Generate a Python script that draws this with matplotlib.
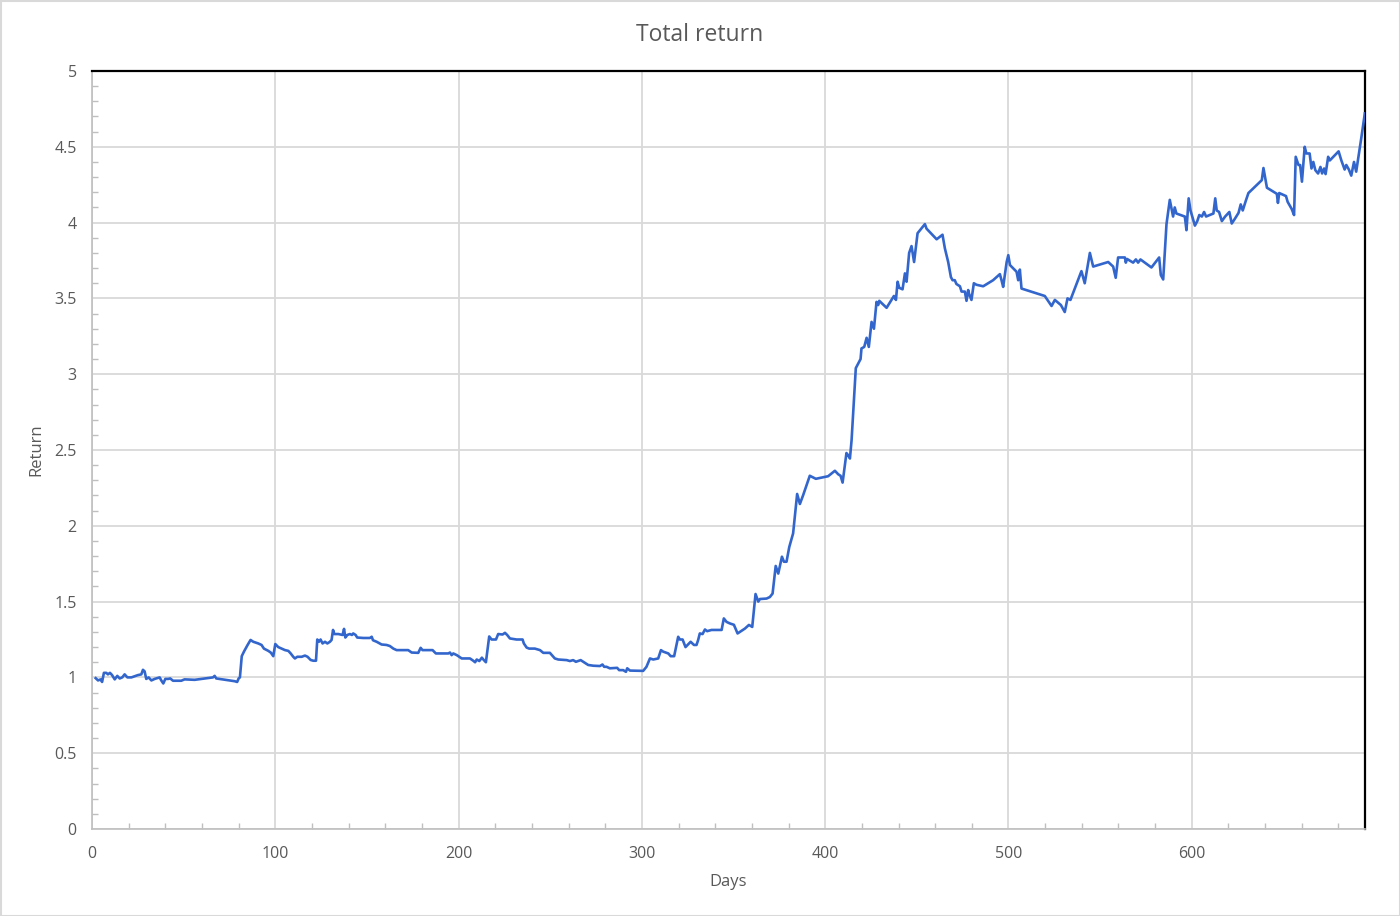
import matplotlib
matplotlib.use("Agg")
import matplotlib.pyplot as plt
from matplotlib.ticker import MultipleLocator, FuncFormatter
from matplotlib.patches import Rectangle

plt.rcParams['font.family'] = ['Open Sans', 'DejaVu Sans']

title = "Total return"
x_label = "Days"
y_label = "Return"

days = [2, 3.3, 4.7, 5.5, 6.5, 7.8, 8.7, 9.8, 10.9, 12.4, 13.8, 15.1, 16.5, 17.8, 19.3, 21.5, 25, 26.9, 27.8, 28.7,
        29.6, 30.9, 32.4, 34.2, 36.9, 37.8, 38.9, 40, 41.5, 42.7, 44.2, 48.7, 50.5, 56, 61.5, 66, 66.9, 67.8, 77.8, 79.2,
        80, 80.7, 81.7, 82.9, 84.7, 86.5, 88, 90.7, 92.5, 93.8, 96.2, 97.6, 98.9, 100, 101.6, 103.5, 105.3, 107.1, 108.4, 109.8,
        110.7, 112, 114.4, 116.2, 117.6, 119.3, 120.7, 122.2, 122.9, 123.8, 124.7, 125.8, 127.1, 128.4, 129.8, 130.7, 131.5, 132.2, 134.4, 136.7,
        137.5, 138.2, 139.3, 140.7, 141.8, 142.5, 143.8, 144.7, 148, 151.6, 152.6, 153.3, 155.3, 158, 160.7, 162.5, 164.4, 166.2, 172.5, 174.4,
        178, 179.3, 180.3, 185.8, 187.6, 194.4, 195.3, 196.2, 197.1, 199, 201.7, 206.2, 208, 209, 209.9, 211.3, 212.7, 213.5, 214.9, 216.7,
        218, 220.4, 221.6, 224, 225.3, 226.5, 228, 231.6, 234.9, 235.6, 237.1, 238.5, 241.6, 244.4, 246.2, 249.8, 252.5, 254.4, 259, 260.7,
        262.5, 264, 266.6, 268, 270.7, 273.5, 277.1, 278.5, 279.4, 280.7, 282.5, 286.5, 287.6, 289.8, 291.3, 292, 293.5, 300.7, 302.5, 304.4,
        306.2, 308.9, 310.4, 311.6, 314.4, 315.7, 317.6, 319.8, 320.7, 322.2, 323.8, 326.6, 328.4, 329.8, 330.7, 331.6, 333.1, 334.4, 335.6, 338,
        343.5, 344.7, 346.2, 348, 350.2, 352.2, 356.2, 358.4, 360.2, 362, 363.5, 364.4, 368, 369.8, 371.3, 373, 374.4, 376.4, 377.5, 378.9,
        380.4, 382.5, 384.7, 386.2, 388, 391.6, 394.9, 401.6, 405.3, 407.1, 408.4, 409.5, 411.6, 412.5, 413.5, 414.4, 416.7, 418, 419.3, 419.8,
        421.3, 422.6, 423.8, 425.3, 426.6, 428, 428.9, 429.5, 433.5, 437.5, 438.6, 439.5, 440.4, 442.2, 443.5, 444.4, 445.8, 447.1, 448.5, 450.4,
        454.4, 455.3, 460.8, 464, 465.3, 467.1, 468.6, 469.5, 470.7, 471.6, 473.5, 474.4, 476.2, 477.1, 478, 478.5, 479.8, 481.1, 482.5, 486.2,
        491.6, 495.3, 496.2, 497.1, 499, 499.9, 500.8, 504.4, 505.3, 506.2, 507.1, 519.8, 523.5, 525.3, 528.6, 530.7, 532.2, 533.8, 539.8, 541.6,
        544.4, 546.2, 554.4, 557.1, 558.5, 559.8, 563.5, 564, 564.7, 568, 569.5, 570.7, 572, 578, 582.2, 583.1, 584.4, 586.2, 588, 589.8,
        590.7, 591.6, 596.2, 597.1, 598.3, 599.3, 601.7, 603, 604.1, 605.5, 606.7, 607.8, 611.8, 612.8, 613.6, 614.9, 616.4, 618.2, 620.5, 621.8,
        623.6, 625.5, 626.7, 627.8, 629.5, 630.9, 638.2, 639.1, 641, 646.4, 647, 647.7, 651.4, 652.3, 654.5, 655.8, 656.7, 658.2, 659.1, 660.1,
        661.6, 662.5, 664.3, 665.3, 666.3, 667.4, 668.9, 670.2, 671.1, 672.2, 673, 674.4, 675.3, 680.1, 681.6, 683.4, 684.3, 685.7, 687, 688.5,
        689.7, 692.5, 694.4]

returns = [0.995, 0.98, 0.987, 0.97, 1.03, 1.03, 1.02, 1.03, 1.016, 0.987, 1.01, 0.993, 1.0, 1.02, 1.0, 1.0, 1.015, 1.02, 1.05, 1.04,
           0.99, 1.0, 0.98, 0.99, 1.0, 0.98, 0.96, 0.99, 0.99, 0.993, 0.978, 0.978, 0.987, 0.984, 0.993, 1.0, 1.01, 0.993, 0.975, 0.97,
           0.993, 1.0, 1.14, 1.17, 1.21, 1.247, 1.235, 1.224, 1.214, 1.19, 1.175, 1.163, 1.14, 1.22, 1.20, 1.19, 1.18, 1.175, 1.158, 1.136,
           1.125, 1.136, 1.136, 1.144, 1.136, 1.115, 1.11, 1.11, 1.25, 1.235, 1.25, 1.224, 1.235, 1.224, 1.235, 1.247, 1.313, 1.286, 1.286, 1.28,
           1.32, 1.263, 1.28, 1.286, 1.28, 1.29, 1.28, 1.263, 1.26, 1.26, 1.268, 1.245, 1.235, 1.217, 1.214, 1.207, 1.19, 1.18, 1.18, 1.164,
           1.162, 1.195, 1.18, 1.18, 1.158, 1.158, 1.164, 1.147, 1.158, 1.147, 1.125, 1.125, 1.11, 1.10, 1.118, 1.108, 1.13, 1.118, 1.10, 1.27,
           1.25, 1.25, 1.286, 1.283, 1.294, 1.28, 1.257, 1.25, 1.25, 1.224, 1.197, 1.19, 1.19, 1.18, 1.162, 1.162, 1.125, 1.118, 1.114, 1.108,
           1.114, 1.103, 1.114, 1.103, 1.082, 1.077, 1.075, 1.085, 1.07, 1.07, 1.06, 1.063, 1.048, 1.048, 1.037, 1.06, 1.045, 1.043, 1.07, 1.125,
           1.118, 1.125, 1.18, 1.17, 1.158, 1.14, 1.14, 1.268, 1.25, 1.25, 1.20, 1.235, 1.214, 1.214, 1.247, 1.29, 1.286, 1.316, 1.305, 1.313,
           1.313, 1.389, 1.366, 1.356, 1.347, 1.29, 1.322, 1.346, 1.333, 1.55, 1.50, 1.517, 1.52, 1.53, 1.553, 1.735, 1.685, 1.796, 1.763, 1.763,
           1.86, 1.95, 2.21, 2.144, 2.203, 2.33, 2.31, 2.327, 2.363, 2.34, 2.33, 2.285, 2.48, 2.466, 2.444, 2.565, 3.04, 3.07, 3.10, 3.17,
           3.18, 3.24, 3.18, 3.345, 3.30, 3.477, 3.456, 3.484, 3.438, 3.516, 3.49, 3.61, 3.57, 3.56, 3.665, 3.61, 3.80, 3.845, 3.74, 3.93,
           3.99, 3.96, 3.89, 3.92, 3.83, 3.74, 3.64, 3.62, 3.62, 3.595, 3.58, 3.545, 3.545, 3.484, 3.555, 3.53, 3.49, 3.60, 3.59, 3.58,
           3.62, 3.66, 3.62, 3.576, 3.74, 3.785, 3.72, 3.676, 3.62, 3.69, 3.565, 3.516, 3.45, 3.49, 3.456, 3.41, 3.50, 3.49, 3.68, 3.60,
           3.80, 3.71, 3.74, 3.71, 3.636, 3.77, 3.77, 3.736, 3.76, 3.736, 3.757, 3.736, 3.757, 3.704, 3.77, 3.654, 3.625, 3.99, 4.15, 4.04,
           4.10, 4.06, 4.04, 3.95, 4.16, 4.08, 3.98, 4.01, 4.05, 4.04, 4.07, 4.04, 4.06, 4.16, 4.08, 4.07, 4.01, 4.04, 4.07, 3.994,
           4.027, 4.064, 4.12, 4.08, 4.145, 4.195, 4.28, 4.36, 4.23, 4.19, 4.13, 4.195, 4.175, 4.137, 4.09, 4.05, 4.434, 4.38, 4.38, 4.27,
           4.50, 4.456, 4.456, 4.357, 4.40, 4.346, 4.324, 4.367, 4.324, 4.357, 4.32, 4.434, 4.41, 4.47, 4.41, 4.35, 4.38, 4.35, 4.31, 4.40,
           4.336, 4.56, 4.72]

x_max = 694.5
y_max = 5

text_color = "#595959"
grid_color = "#d9d9d9"
line_color = "#3366CC"

fig = plt.figure(figsize=(14, 9.16), dpi=100)
fig.patch.set_facecolor("white")
ax = fig.add_axes([92 / 1400, 1 - 829 / 916, (1365 - 92) / 1400, (829 - 71) / 916])

ax.plot(days, returns, color=line_color, linewidth=1.9, solid_joinstyle="round", zorder=3)

ax.set_xlim(0, x_max)
ax.set_ylim(0, y_max)
ax.xaxis.set_major_locator(MultipleLocator(100))
ax.xaxis.set_minor_locator(MultipleLocator(20))
ax.yaxis.set_major_locator(MultipleLocator(0.5))
ax.yaxis.set_minor_locator(MultipleLocator(0.1))
ax.yaxis.set_major_formatter(FuncFormatter(lambda v, p: f"{v:g}"))

ax.grid(True, which="major", color=grid_color, linewidth=1.3, zorder=0)
ax.set_axisbelow(True)

ax.tick_params(which="major", length=0, labelsize=11.5, labelcolor=text_color)
ax.tick_params(axis="x", which="major", pad=12)
ax.tick_params(axis="y", which="major", pad=11)
ax.tick_params(which="minor", direction="in", length=4, width=1, color="#bfbfbf")

for s in ["left", "bottom"]:
    ax.spines[s].set_color("#bfbfbf")
    ax.spines[s].set_linewidth(1.2)
for s in ["top", "right"]:
    ax.spines[s].set_color("black")
    ax.spines[s].set_linewidth(1.6)

ax.set_xlabel(x_label, fontsize=12, color=text_color, labelpad=9)
ax.set_ylabel(y_label, fontsize=12, color=text_color, labelpad=7)
fig.text(0.5, 1 - 35 / 916, title, ha="center", va="center", fontsize=16.5, color=text_color)

fig.add_artist(Rectangle((0.5 / 1400, 0.5 / 916), 1 - 1 / 1400, 1 - 1 / 916, transform=fig.transFigure,
                         fill=False, edgecolor="#d9d9d9", linewidth=1.5))

fig.savefig("out.png", dpi=100)
